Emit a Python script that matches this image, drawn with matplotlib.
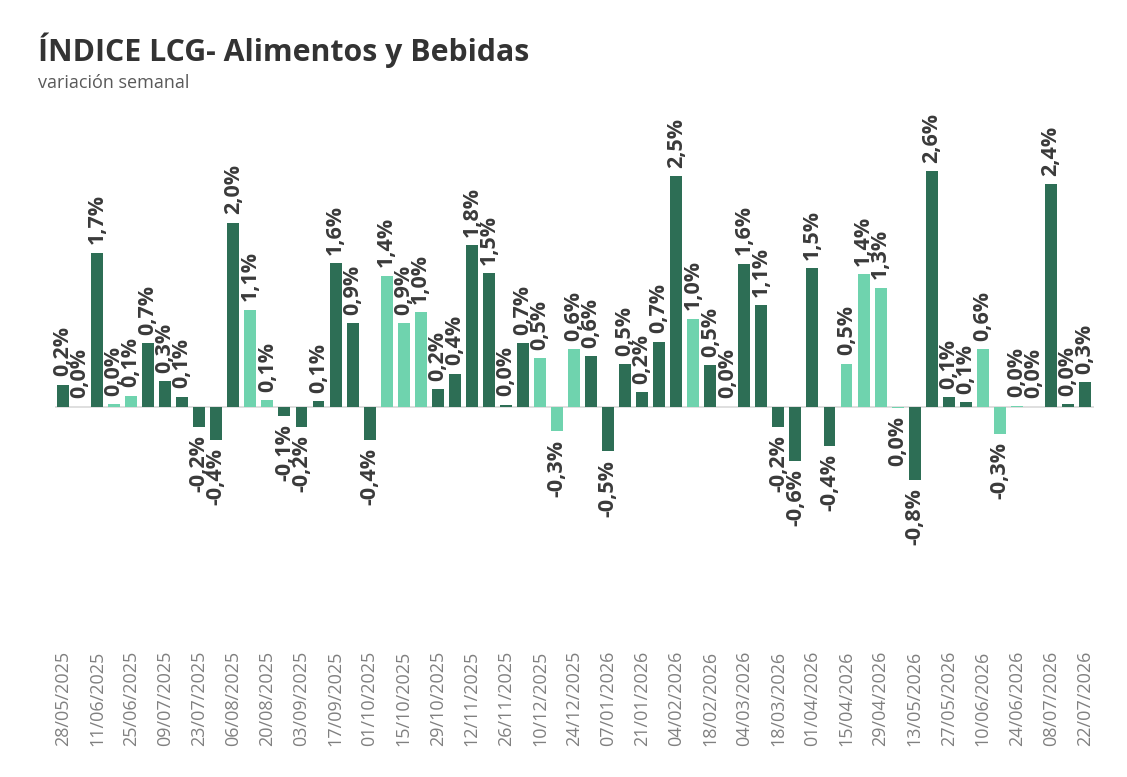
import matplotlib.pyplot as plt
import numpy as np

# weekly dates (every week; only every other one gets a tick label)
dates = ["28/05/2025", "04/06/2025", "11/06/2025", "18/06/2025", "25/06/2025", "02/07/2025",
         "09/07/2025", "16/07/2025", "23/07/2025", "30/07/2025", "06/08/2025", "13/08/2025",
         "20/08/2025", "27/08/2025", "03/09/2025", "10/09/2025", "17/09/2025", "24/09/2025",
         "01/10/2025", "08/10/2025", "15/10/2025", "22/10/2025", "29/10/2025", "05/11/2025",
         "12/11/2025", "19/11/2025", "26/11/2025", "03/12/2025", "10/12/2025", "17/12/2025",
         "24/12/2025", "31/12/2025", "07/01/2026", "14/01/2026", "21/01/2026", "28/01/2026",
         "04/02/2026", "11/02/2026", "18/02/2026", "25/02/2026", "04/03/2026", "11/03/2026",
         "18/03/2026", "25/03/2026", "01/04/2026", "08/04/2026", "15/04/2026", "22/04/2026",
         "29/04/2026", "06/05/2026", "13/05/2026", "20/05/2026", "27/05/2026", "03/06/2026",
         "10/06/2026", "17/06/2026", "24/06/2026", "01/07/2026", "08/07/2026", "15/07/2026",
         "22/07/2026"]

# weekly variation (%)
values = [0.24, 0.00, 1.68, 0.03, 0.12, 0.69, 0.28, 0.11, -0.22, -0.36,
          2.01, 1.06, 0.07, -0.10, -0.22, 0.06, 1.57, 0.91, -0.36, 1.43,
          0.91, 1.03, 0.19, 0.36, 1.76, 1.46, 0.02, 0.69, 0.53, -0.27,
          0.63, 0.55, -0.49, 0.46, 0.16, 0.71, 2.52, 0.96, 0.45, 0.00,
          1.56, 1.11, -0.22, -0.59, 1.51, -0.43, 0.47, 1.45, 1.30, -0.01,
          -0.80, 2.57, 0.10, 0.05, 0.63, -0.30, 0.01, 0.00, 2.43, 0.03,
          0.27]

# which bars are drawn in the lighter green
light = [0, 0, 0, 1, 1, 0, 0, 0, 0, 0,
         0, 1, 1, 0, 0, 0, 0, 0, 0, 1,
         1, 1, 0, 0, 0, 0, 0, 0, 1, 1,
         1, 0, 0, 0, 0, 0, 0, 1, 0, 0,
         0, 0, 0, 0, 0, 0, 1, 1, 1, 1,
         0, 0, 0, 0, 1, 1, 1, 0, 0, 0,
         0]

DARK = "#2d6e55"
LIGHT = "#6fd3ae"
LABEL_COLOR = "#3a3a3a"

labels = [f"{abs(v):.1f}%".replace(".", ",") for v in values]
labels = [("-" + s if v < 0 and s != "0,0%" else s) for s, v in zip(labels, values)]

fig = plt.figure(figsize=(11.27, 7.77), dpi=100)
ax = fig.add_axes([54.5 / 1127, 137 / 777, 1039 / 1127, 508 / 777])

x = np.arange(len(values))
colors = [LIGHT if l else DARK for l in light]
ax.bar(x, values, width=0.7, color=colors, zorder=2)
ax.axhline(0, color="#d9d9d9", lw=1.2, zorder=1)

for xi, v, s in zip(x, values, labels):
    if v >= 0:
        ax.annotate(s, (xi, v), xytext=(0, 6), textcoords="offset points", rotation=90,
                    ha="center", va="bottom", fontsize=15.5, fontweight="bold",
                    color=LABEL_COLOR, family="Open Sans")
    else:
        ax.annotate(s, (xi, v), xytext=(0, -6), textcoords="offset points", rotation=90,
                    ha="center", va="top", fontsize=15.5, fontweight="bold",
                    color=LABEL_COLOR, family="Open Sans")

ax.set_xlim(-0.5, len(values) - 0.5)
ax.set_ylim(-2.55, 3.0)
ax.set_xticks(x[::2])
ax.set_xticklabels(dates[::2], rotation=90, fontsize=13, color="#808080", family="Open Sans")
ax.tick_params(axis="x", length=0, pad=8)
ax.set_yticks([])
for sp in ax.spines.values():
    sp.set_visible(False)

fig.text(38 / 1127, 1 - 50 / 777, "ÍNDICE LCG- Alimentos y Bebidas", fontsize=21.8, fontweight="bold",
         color="#333333", family="Open Sans", va="center", ha="left")
fig.text(38 / 1127, 1 - 83 / 777, "variación semanal", fontsize=13, color="#595959",
         family="Open Sans", va="center", ha="left")

fig.savefig("out.png", dpi=100)
